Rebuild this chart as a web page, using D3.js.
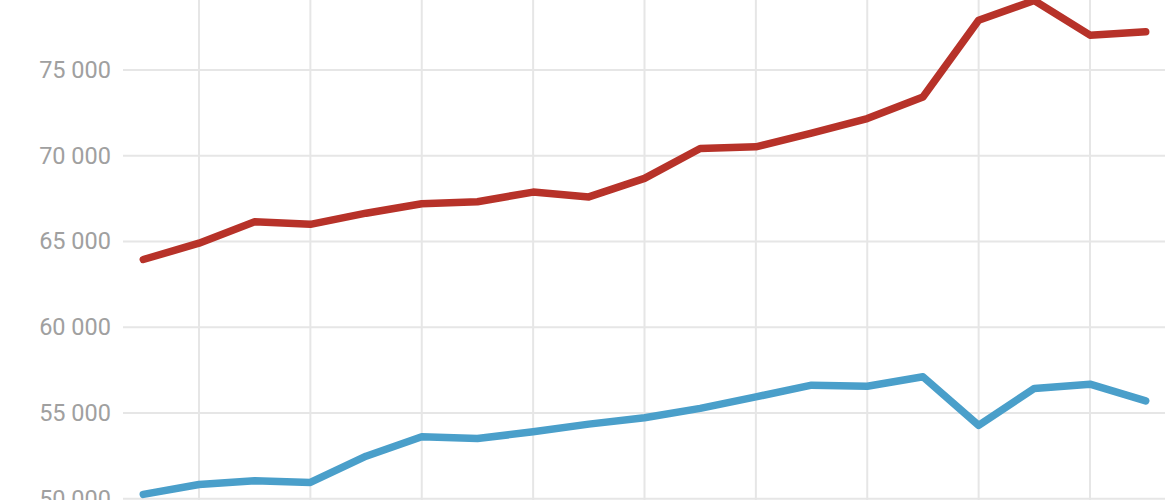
<!DOCTYPE html>
<html>
<head>
<meta charset="utf-8">
<script src="https://cdn.jsdelivr.net/npm/d3@7"></script>
<style>
  html, body { margin: 0; padding: 0; background: #fff; }
  svg { display: block; }
</style>
</head>
<body>
<svg id="chart" width="1176" height="500"></svg>
<script>
const categories = ["2004","2005","2006","2007","2008","2009","2010","2011","2012","2013","2014","2015","2016","2017","2018","2019","2020","2021","2022"];
const seriesRed = [63950, 64900, 66150, 66000, 66650, 67200, 67320, 67880, 67600, 68680, 70420, 70520, 71320, 72170, 73430, 77900, 79050, 77030, 77230];
const seriesBlue = [50250, 50830, 51040, 50950, 52480, 53610, 53510, 53900, 54350, 54720, 55270, 55940, 56620, 56560, 57110, 54280, 56430, 56680, 55700];
const yTicks = [50000, 55000, 60000, 65000, 70000, 75000];

const svg = d3.select("#chart");
const W = 1176, H = 500;

const x = d3.scalePoint().domain(categories).range([143.3, 1145.7]);
const y = d3.scaleLinear().domain([50000, 75000]).range([498.7, 70]);

const locale = d3.formatLocale({decimal: ",", thousands: " ", grouping: [3], currency: ["", ""]});
const fmt = locale.format(",d");

// horizontal gridlines
svg.append("g").selectAll("line").data(yTicks).join("line")
  .attr("x1", 123).attr("x2", 1165)
  .attr("y1", d => y(d)).attr("y2", d => y(d))
  .attr("stroke", "#e6e6e6").attr("stroke-width", 2);

// vertical gridlines at every other category
svg.append("g").selectAll("line").data(categories.filter((d, i) => i % 2 === 1)).join("line")
  .attr("x1", d => x(d)).attr("x2", d => x(d))
  .attr("y1", 0).attr("y2", H)
  .attr("stroke", "#e6e6e6").attr("stroke-width", 2);

// y labels
svg.append("g").selectAll("text").data(yTicks).join("text")
  .attr("x", 111).attr("y", d => y(d))
  .attr("dy", "0.34em")
  .attr("text-anchor", "end")
  .attr("font-family", "Roboto, sans-serif")
  .attr("font-size", 23.5)
  .attr("fill", "#a0a0a0")
  .text(d => fmt(d));

const line = d3.line().x((d, i) => x(categories[i])).y(d => y(d));

svg.append("path").datum(seriesBlue)
  .attr("d", line).attr("fill", "none")
  .attr("stroke", "#4a9fca").attr("stroke-width", 7.5)
  .attr("stroke-linejoin", "round").attr("stroke-linecap", "round");

svg.append("path").datum(seriesRed)
  .attr("d", line).attr("fill", "none")
  .attr("stroke", "#b73229").attr("stroke-width", 7.5)
  .attr("stroke-linejoin", "round").attr("stroke-linecap", "round");
</script>
</body>
</html>
